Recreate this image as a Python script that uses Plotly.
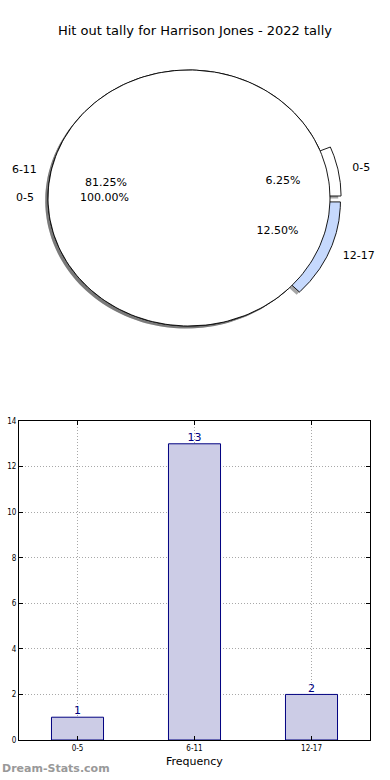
import numpy as np
import plotly.graph_objects as go

# ---------------- data ----------------
title_text = "Hit out tally for Harrison Jones - 2022 tally"
categories = ["0-5", "6-11", "12-17"]
tally = [1, 13, 2]
pie_explode = [0.08, 0.0, 0.08]
pie_colors = ["#ffffff", "#ffffff", "#c6d9fd"]
inner_labels = ["0-5"]
inner_values = [1]
y_ticks = [0, 2, 4, 6, 8, 10, 12, 14]
x_title = "Frequency"
y_title = "Total Hit Outs"
watermark = "Dream-Stats.com"

FONT = "DejaVu Sans"
W, H = 390, 780
PCX, PCY, PRX, PRY = 189, 198, 141, 128
PIE_TOP, PIE_BOT = 50, 350


def arc_pts(cx, cy, t1, t2, n=200, center=True):
    th = np.radians(np.linspace(t1, t2, n))
    xs = list(cx + np.cos(th))
    ys = list(cy + np.sin(th))
    if center:
        xs = [cx] + xs + [cx]
        ys = [cy] + ys + [cy]
    else:
        xs.append(xs[0])
        ys.append(ys[0])
    return xs, ys


fig = go.Figure()

vals = np.array(tally, dtype=float)
fracs = vals / vals.sum()
starts = np.concatenate([[0], np.cumsum(fracs)[:-1]]) * 360
ends = np.cumsum(fracs) * 360
SH = -0.02
shadow_col = "rgba(77,77,77,0.5)"

wedges = []
for lab, f, t1, t2, ex, col in zip(categories, fracs, starts, ends, pie_explode, pie_colors):
    mid = np.radians((t1 + t2) / 2)
    cx, cy = ex * np.cos(mid), ex * np.sin(mid)
    wedges.append((lab, f, t1, t2, cx, cy, col, mid))

ivals = np.array(inner_values, dtype=float)
ifr = ivals / ivals.sum()

for lab, f, t1, t2, cx, cy, col, mid in wedges:
    xs, ys = arc_pts(cx + SH, cy + SH, t1, t2)
    fig.add_trace(go.Scatter(x=xs, y=ys, fill="toself", fillcolor=shadow_col,
                             line=dict(width=0), mode="lines", hoverinfo="skip",
                             xaxis="x2", yaxis="y2", showlegend=False))
for f in ifr:
    xs, ys = arc_pts(SH, SH, 0, 360 * f, center=(f < 1))
    fig.add_trace(go.Scatter(x=xs, y=ys, fill="toself", fillcolor=shadow_col,
                             line=dict(width=0), mode="lines", hoverinfo="skip",
                             xaxis="x2", yaxis="y2", showlegend=False))
for lab, f, t1, t2, cx, cy, col, mid in wedges:
    xs, ys = arc_pts(cx, cy, t1, t2)
    fig.add_trace(go.Scatter(x=xs, y=ys, fill="toself", fillcolor=col,
                             line=dict(width=0.9, color="black"), mode="lines",
                             hoverinfo="skip", xaxis="x2", yaxis="y2", showlegend=False))
for f in ifr:
    xs, ys = arc_pts(0, 0, 0, 360 * f, center=(f < 1))
    fig.add_trace(go.Scatter(x=xs, y=ys, fill="toself", fillcolor="#ffffff",
                             line=dict(width=0.9, color="black"), mode="lines",
                             hoverinfo="skip", xaxis="x2", yaxis="y2", showlegend=False))

for lab, f, t1, t2, cx, cy, col, mid in wedges:
    lx, ly = cx + 1.1 * np.cos(mid), cy + 1.1 * np.sin(mid)
    pos = "middle right" if lx >= 0 else "middle left"
    fig.add_trace(go.Scatter(x=[lx], y=[ly], mode="text", text=[lab], textposition=pos,
                             textfont=dict(family=FONT, size=11, color="black"),
                             hoverinfo="skip", xaxis="x2", yaxis="y2", showlegend=False))
    px, py = cx + 0.6 * np.cos(mid), cy + 0.6 * np.sin(mid)
    fig.add_trace(go.Scatter(x=[px], y=[py], mode="text", text=["%.2f%%" % (f * 100)],
                             textposition="middle center",
                             textfont=dict(family=FONT, size=11, color="black"),
                             hoverinfo="skip", xaxis="x2", yaxis="y2", showlegend=False))
for lab, f in zip(inner_labels, ifr):
    mid = np.radians(360 * f / 2)
    lx, ly = 1.1 * np.cos(mid), 1.1 * np.sin(mid)
    pos = "middle right" if lx >= 0 else "middle left"
    fig.add_trace(go.Scatter(x=[lx], y=[ly], mode="text", text=[lab], textposition=pos,
                             textfont=dict(family=FONT, size=11, color="black"),
                             hoverinfo="skip", xaxis="x2", yaxis="y2", showlegend=False))
    fig.add_trace(go.Scatter(x=[0.6 * np.cos(mid)], y=[0.6 * np.sin(mid)], mode="text",
                             text=["%.2f%%" % (f * 100)], textposition="middle center",
                             textfont=dict(family=FONT, size=11, color="black"),
                             hoverinfo="skip", xaxis="x2", yaxis="y2", showlegend=False))

fig.add_trace(go.Bar(x=categories, y=tally, width=0.445,
                     marker=dict(color="rgb(204,204,230)", line=dict(color="#000080", width=1)),
                     hoverinfo="skip", showlegend=False, xaxis="x", yaxis="y"))
fig.add_trace(go.Scatter(x=categories, y=tally, mode="text", text=[str(v) for v in tally],
                         textposition="top center",
                         textfont=dict(family=FONT, size=11, color="#000080"),
                         hoverinfo="skip", showlegend=False, xaxis="x", yaxis="y"))

bx0, bx1, by0, by1 = 19, 370, 421, 740
grid = dict(showgrid=True, gridcolor="#a8a8a8", griddash="1px,2px", gridwidth=1)
tickfont = dict(family="DejaVu Sans Condensed, DejaVu Sans", size=8, color="black")
fig.update_layout(
    template="none",
    width=W, height=H,
    margin=dict(l=0, r=0, t=0, b=0, pad=0, autoexpand=False),
    paper_bgcolor="white", plot_bgcolor="rgba(0,0,0,0)",
    title=dict(text=title_text, x=0.5, xanchor="center", y=1 - 30 / H, yanchor="middle",
               font=dict(family=FONT, size=13, color="black")),
    xaxis2=dict(domain=[0, 1], range=[-PCX / PRX, (W - PCX) / PRX], visible=False,
                fixedrange=True, anchor="y2", automargin=False),
    yaxis2=dict(domain=[1 - PIE_BOT / H, 1 - PIE_TOP / H],
                range=[-(PIE_BOT - PCY) / PRY, (PCY - PIE_TOP) / PRY], visible=False,
                fixedrange=True, anchor="x2", automargin=False),
    xaxis=dict(domain=[bx0 / W, bx1 / W], range=[-0.5, 2.5], type="category",
               showline=True, linecolor="black", linewidth=1, mirror="ticks",
               ticks="inside", ticklen=4, tickcolor="black", tickfont=tickfont,
               anchor="y", fixedrange=True, automargin=False, zeroline=False, **grid),
    yaxis=dict(domain=[1 - by1 / H, 1 - by0 / H], range=[0, 14], tickvals=y_ticks,
               showline=True, linecolor="black", linewidth=1, mirror="ticks",
               ticks="inside", ticklen=4, tickcolor="black", zeroline=False,
               tickfont=tickfont, anchor="x", fixedrange=True, automargin=False, **grid),
    annotations=[
        dict(text=x_title, x=(bx0 + bx1) / 2 / W, y=1 - 761 / H, xref="paper", yref="paper",
             xanchor="center", yanchor="middle", showarrow=False,
             font=dict(family=FONT, size=11, color="black")),
        dict(text=y_title, x=-5 / W, y=1 - 582 / H, xref="paper", yref="paper",
             xanchor="center", yanchor="middle", textangle=-90, showarrow=False,
             font=dict(family=FONT, size=11, color="black")),
        dict(text="<b>" + watermark + "</b>", x=0, y=1 - 768 / H, xref="paper", yref="paper",
             xanchor="left", yanchor="middle", showarrow=False,
             font=dict(family=FONT, size=11, color="#999999")),
    ],
)

post = (
    "var s=document.createElement('style');"
    "s.textContent='html,body{margin:0;padding:0;overflow:hidden;width:390px;height:780px;}';"
    "document.head.appendChild(s);"
)
fig.write_html("out.html", config={"displayModeBar": False}, post_script=post)
